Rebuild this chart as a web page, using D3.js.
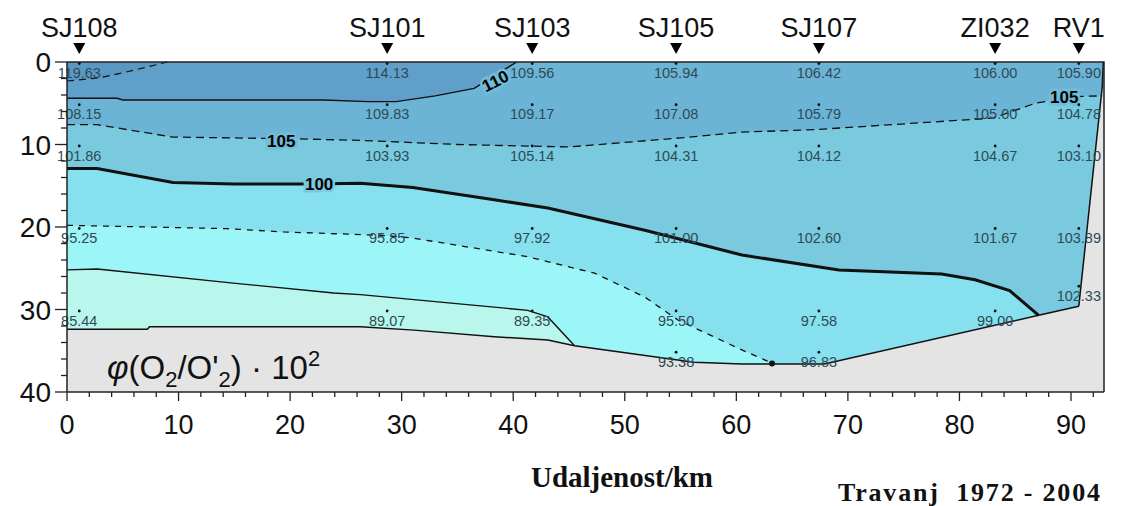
<!DOCTYPE html>
<html><head><meta charset="utf-8">
<script src="https://cdn.jsdelivr.net/npm/d3@7"></script>
<style>body{margin:0;background:#fff}svg{display:block}</style>
</head><body><svg id="c" width="1123" height="506"></svg>
<script>
// ---------- data ----------
const stations   = ["SJ108","SJ101","SJ103","SJ105","SJ107","ZI032","RV1"];
const stationKm  = [1.1, 28.7, 41.7, 54.6, 67.4, 83.2, 90.7];
const sampleDepths = [
  [0,5,10,20,30],
  [0,5,10,20,30],
  [0,5,10,20,30],
  [0,5,10,20,30,35],
  [0,5,10,20,30,35],
  [0,5,10,20,30],
  [0,5,10,20,27]
];
const sampleValues = [
  [119.63,108.15,101.86,95.25,85.44],
  [114.13,109.83,103.93,95.85,89.07],
  [109.56,109.17,105.14,97.92,89.35],
  [105.94,107.08,104.31,101.00,95.50,93.38],
  [106.42,105.79,104.12,102.60,97.58,96.83],
  [106.00,105.00,104.67,101.67,99.00],
  [105.90,104.78,103.10,103.89,102.33]
];
const xTicks = [0,10,20,30,40,50,60,70,80,90];
const yTicks = [0,10,20,30,40];

// sea-floor profile and right data edge (km, depth m)
const bottomProfile = [[0,32.4],[7.2,32.4],[7.4,32.1],[26.3,32.1],[31.1,32.5],[38.3,33.3],[43.1,33.7],[45.5,34.4],[56.2,36.4],[60.5,36.6],[67.9,36.6],[87.1,30.7],[90.7,29.6]];
const rightEdge = [[92.9,0],[92.8,3.0],[90.7,29.6]];

// isolines (km, depth m)
const iso115 = [[0,2.3],[3,1.9],[6,1.0],[9,0]];
const iso110 = [[0,4.4],[4.5,4.4],[5,4.6],[14.5,4.6],[23,4.6],[27,4.8],[29.5,4.8],[33,4.1],[36.5,3.2],[40.3,0]];
const iso105 = [[0,7.6],[2.7,7.6],[9.5,9.1],[20,9.3],[26.3,9.5],[35,10.0],[45,10.3],[55,9.2],[60.5,8.5],[67,8.2],[83,6.8],[86.8,5.0],[90.3,4.2],[92.8,4.1]];
const iso100 = [[0,12.9],[2.7,12.9],[9.5,14.6],[15,14.8],[22,14.8],[26.3,14.7],[31,15.2],[38.3,16.7],[43.1,17.7],[51.8,20.4],[56.2,21.9],[60.5,23.4],[69.2,25.2],[78.4,25.7],[81.4,26.4],[84.5,27.7],[87.1,30.7]];
const iso95  = [[0,19.8],[14.4,20.2],[19.4,20.6],[28.1,21.0],[30.8,21.3],[41.3,23.6],[47.3,25.6],[51.8,28.5],[54.8,31.3],[60.5,34.9],[62.7,36.2],[63.2,36.55]];
const iso90  = [[0,25.2],[2.7,25.1],[14.9,26.8],[23.9,28.0],[26.3,28.2],[41.3,30.1],[43.1,30.9],[45.5,34.4]];

const isoLabels = [
  {t:"110", km:38.4, d:2.3, rot:-27},
  {t:"105", km:19.2, d:9.6, rot:0},
  {t:"100", km:22.6, d:14.8, rot:0},
  {t:"105", km:89.4, d:4.3, rot:0}
];

// ---------- drawing ----------
const svg = d3.select("#c");
const x = d3.scaleLinear().domain([0,90]).range([67,1071]);
const y = d3.scaleLinear().domain([0,40]).range([62,392]);
const xEnd = x.invert(1104);
const line = d3.line().x(d=>x(d[0])).y(d=>y(d[1]));
const poly = pts => line(pts) + "Z";

const colors = {
  c115:"#5a98c4", c110:"#609fc9", c105:"#6cb4d6", c100:"#79cadf",
  c95:"#86e0ee", c90:"#9cf5f7", cLow:"#b9f7ed", ground:"#e4e4e4"
};

// ground/background of frame
svg.append("rect").attr("x",x(0)).attr("y",y(0)).attr("width",x(xEnd)-x(0)).attr("height",y(40)-y(0)).attr("fill",colors.ground);

// data region polygon
const dataPoly = [[0,0], ...rightEdge, ...bottomProfile.slice().reverse()];
svg.append("clipPath").attr("id","dclip").append("path").attr("d", poly(dataPoly));
const g = svg.append("g").attr("clip-path","url(#dclip)");
g.append("path").attr("d", poly(dataPoly)).attr("fill", colors.c105);

const above = c => [[-1,c[0][1]], ...c, [c[c.length-1][0],-1], [-1,-1]];
const below = (c, toRight) => {
  const last = c[c.length-1];
  const tail = toRight ? [[100,last[1]],[100,41]] : [[last[0],41]];
  return [[-1,c[0][1]], ...c, ...tail, [-1,41]];
};
g.append("path").attr("d", poly(above(iso110))).attr("fill", colors.c110);
g.append("path").attr("d", poly(above(iso115))).attr("fill", colors.c115);
g.append("path").attr("d", poly(below(iso105,true))).attr("fill", colors.c100);
g.append("path").attr("d", poly(below(iso100,false))).attr("fill", colors.c95);
g.append("path").attr("d", poly(below(iso95,false))).attr("fill", colors.c90);
g.append("path").attr("d", poly(below(iso90,false))).attr("fill", colors.cLow);

// isolines
const iso = [
  {c:iso115, w:1.2, dash:"7,5"},
  {c:iso110, w:1.4, dash:null},
  {c:iso105, w:1.3, dash:"8,5"},
  {c:iso100, w:3, dash:null},
  {c:iso95,  w:1.3, dash:"6,6"},
  {c:iso90,  w:1.4, dash:null}
];
iso.forEach(o=>{
  svg.append("path").attr("d", line(o.c)).attr("fill","none").attr("stroke","#111")
    .attr("stroke-width",o.w).attr("stroke-dasharray",o.dash);
});
// sea floor + right edge outlines
svg.append("path").attr("d", line(bottomProfile)).attr("fill","none").attr("stroke","#111").attr("stroke-width",1.5);
svg.append("path").attr("d", line(rightEdge)).attr("fill","none").attr("stroke","#111").attr("stroke-width",1.5);
svg.append("circle").attr("cx",x(63.2)).attr("cy",y(36.55)).attr("r",3).attr("fill","#111");

// isoline labels
isoLabels.forEach(l=>{
  svg.append("text").attr("transform",`translate(${x(l.km)},${y(l.d)}) rotate(${l.rot})`)
    .attr("text-anchor","middle").attr("dy","0.35em")
    .style("font","bold 17px 'Liberation Sans', Arial, sans-serif")
    .attr("fill","#000").attr("stroke", l.t==="100" ? colors.c100 : "#70bcd9").attr("stroke-width",5)
    .attr("paint-order","stroke").text(l.t);
});

// sample dots and values
stations.forEach((s,i)=>{
  sampleDepths[i].forEach((d,j)=>{
    svg.append("text").attr("x", x(stationKm[i])).attr("y", y(d)+16)
      .attr("text-anchor","middle").attr("fill","#2f4a55")
      .style("font","14.5px 'Liberation Sans', Arial, sans-serif").text(sampleValues[i][j].toFixed(2));
    svg.append("circle").attr("cx", x(stationKm[i])).attr("cy", y(d)+1.5).attr("r",1.4).attr("fill","#111");
  });
  // station marker and name
  const sx = x(stationKm[i]);
  svg.append("path").attr("d", `M${sx-6},${43}L${sx+6},${43}L${sx},${54}Z`).attr("fill","#000");
  svg.append("text").attr("x", sx).attr("y", 37).attr("text-anchor","middle")
    .style("font","27px 'Liberation Sans', Arial, sans-serif").attr("fill","#111").text(s);
});

// frame
svg.append("path").attr("d",`M${x(0)},${y(0)}H${x(xEnd)}V${y(40)}`).attr("fill","none").attr("stroke","#222").attr("stroke-width",1.5);

// axes
const minorX = d3.range(0, 94, 2);
const xAxisG = svg.append("g").attr("transform",`translate(0,${y(40)})`);
xAxisG.append("line").attr("x1",x(0)).attr("x2",x(xEnd)).attr("stroke","#222").attr("stroke-width",1.5);
minorX.forEach(v=>{
  const major = v%10===0;
  xAxisG.append("line").attr("x1",x(v)).attr("x2",x(v)).attr("y1",0).attr("y2",major?9:5).attr("stroke","#222").attr("stroke-width",1.3);
});
xTicks.forEach(v=>{
  xAxisG.append("text").attr("x",x(v)).attr("y",42).attr("text-anchor","middle")
    .style("font","27px 'Liberation Sans', Arial, sans-serif").attr("fill","#111").text(v);
});

const minorY = d3.range(0, 41, 2);
const yAxisG = svg.append("g").attr("transform",`translate(${x(0)},0)`);
yAxisG.append("line").attr("y1",y(0)).attr("y2",y(40)).attr("stroke","#222").attr("stroke-width",1.5);
minorY.forEach(v=>{
  const major = v%10===0;
  yAxisG.append("line").attr("x1",major?-12:-6).attr("x2",0).attr("y1",y(v)).attr("y2",y(v)).attr("stroke","#222").attr("stroke-width",1.3);
});
yTicks.forEach(v=>{
  yAxisG.append("text").attr("x",-16).attr("y",y(v)).attr("dy","0.36em").attr("text-anchor","end")
    .style("font","28px 'Liberation Sans', Arial, sans-serif").attr("fill","#111").text(v);
});

// formula label
const f = svg.append("text").attr("x",107).attr("y",379)
  .style("font","33px 'Liberation Sans', Arial, sans-serif").attr("fill","#111");
f.append("tspan").style("font-style","italic").text("φ");
f.append("tspan").text("(O");
f.append("tspan").attr("dy",8).style("font-size","22px").text("2");
f.append("tspan").attr("dy",-8).text("/O'");
f.append("tspan").attr("dy",8).style("font-size","22px").text("2");
f.append("tspan").attr("dy",-8).text(") · 10");
f.append("tspan").attr("dy",-13).style("font-size","22px").text("2");

// axis title and period
svg.append("text").attr("x",622).attr("y",487).attr("text-anchor","middle")
  .style("font","bold 29px 'Liberation Serif', 'Times New Roman', serif").attr("fill","#111").text("Udaljenost/km");
svg.append("text").attr("x",838).attr("y",501).attr("xml:space","preserve")
  .style("font","bold 26px 'Liberation Serif', 'Times New Roman', serif").style("letter-spacing","1.8px").attr("fill","#111").text("Travanj  1972 - 2004");
</script></body></html>
